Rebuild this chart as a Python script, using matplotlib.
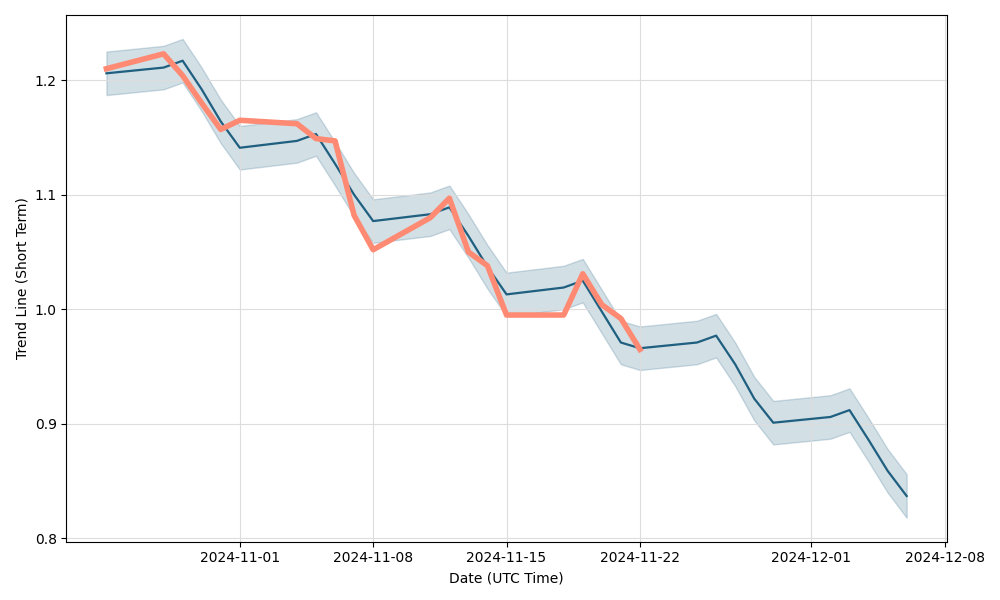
import numpy as np
import pandas as pd
import matplotlib
matplotlib.use('Agg')
import matplotlib.pyplot as plt

# trend line (short term), weekdays only
trend_dates = ['2024-10-25', '2024-10-28', '2024-10-29', '2024-10-30', '2024-10-31',
               '2024-11-01', '2024-11-04', '2024-11-05', '2024-11-06', '2024-11-07',
               '2024-11-08', '2024-11-11', '2024-11-12', '2024-11-13', '2024-11-14',
               '2024-11-15', '2024-11-18', '2024-11-19', '2024-11-20', '2024-11-21',
               '2024-11-22', '2024-11-25', '2024-11-26', '2024-11-27', '2024-11-28',
               '2024-11-29', '2024-12-02', '2024-12-03', '2024-12-04', '2024-12-05',
               '2024-12-06']
trend_values = [1.206, 1.211, 1.217, 1.192, 1.164,
                1.141, 1.147, 1.153, 1.127, 1.100,
                1.077, 1.083, 1.089, 1.064, 1.037,
                1.013, 1.019, 1.025, 0.998, 0.971,
                0.966, 0.971, 0.977, 0.952, 0.922,
                0.901, 0.906, 0.912, 0.886, 0.859,
                0.837]
band_halfwidth = 0.019

# actual price
price_dates = ['2024-10-25', '2024-10-28', '2024-10-29', '2024-10-30', '2024-10-31',
               '2024-11-01', '2024-11-04', '2024-11-05', '2024-11-06', '2024-11-07',
               '2024-11-08', '2024-11-11', '2024-11-12', '2024-11-13', '2024-11-14',
               '2024-11-15', '2024-11-18', '2024-11-19', '2024-11-20', '2024-11-21',
               '2024-11-22']
price_values = [1.210, 1.223, 1.204, 1.180, 1.157,
                1.165, 1.162, 1.149, 1.147, 1.082,
                1.052, 1.080, 1.097, 1.050, 1.038,
                0.995, 0.995, 1.031, 1.004, 0.992,
                0.965]

td = pd.to_datetime(trend_dates)
tv = np.array(trend_values)
pd_ = pd.to_datetime(price_dates)

fig, ax = plt.subplots(figsize=(10, 6), dpi=100)
line_color = '#1f5f80'
ax.fill_between(td, tv - band_halfwidth, tv + band_halfwidth, color=line_color, alpha=0.2)
ax.plot(td, tv, color=line_color, linewidth=1.6)
ax.plot(pd_, price_values, color='#ff8a73', linewidth=4)

ax.grid(True, color='#dddddd', linewidth=0.8)
ax.set_xlabel('Date (UTC Time)')
ax.set_ylabel('Trend Line (Short Term)')

plt.tight_layout()
fig.savefig('out.png', dpi=100)
